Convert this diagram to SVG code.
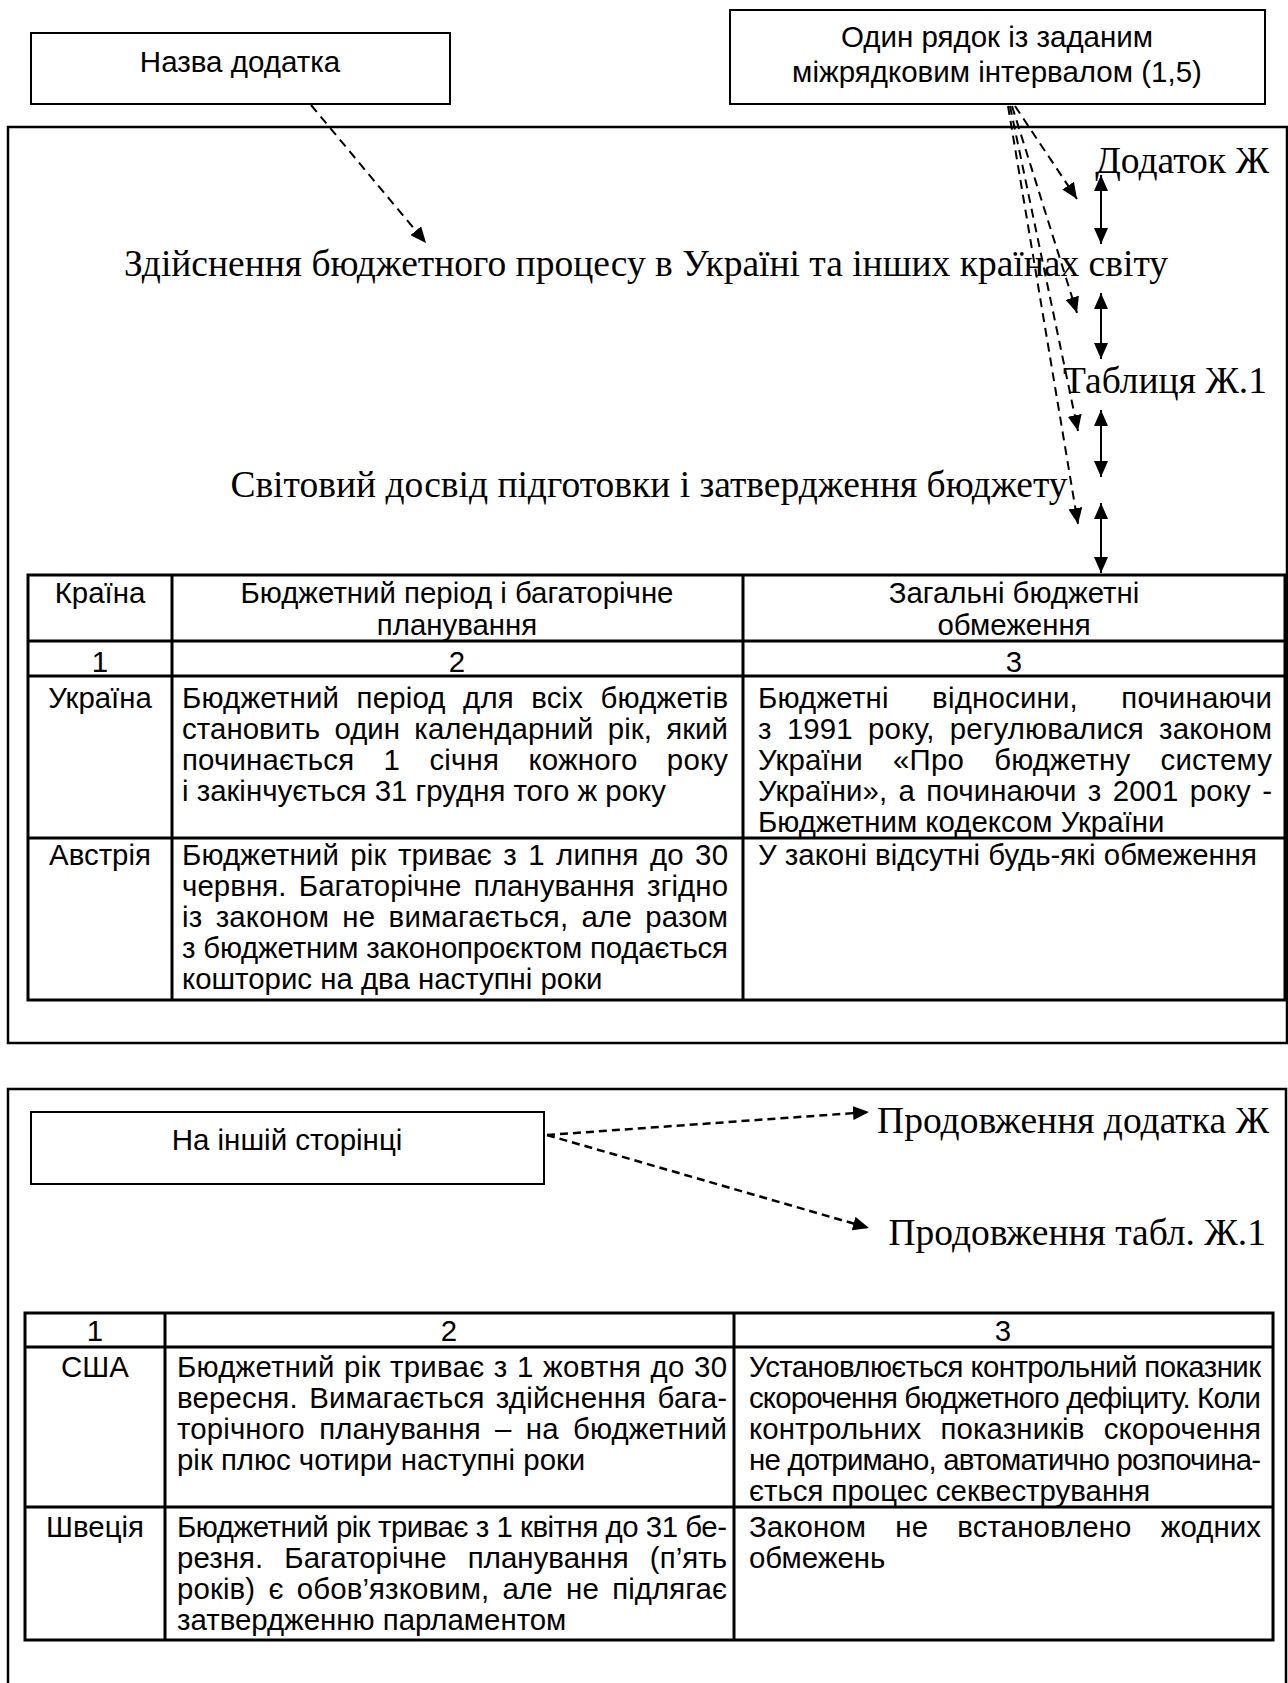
<svg xmlns="http://www.w3.org/2000/svg" width="1288" height="1683" viewBox="0 0 1288 1683">
<style>
.frame{fill:none;stroke:#000;stroke-width:2.5}
.box{fill:#fff;stroke:#000;stroke-width:2}
.tb{fill:none;stroke:#000;stroke-width:3}
.serif{font-family:"Liberation Serif","Times New Roman",serif;font-size:37.5px;fill:#000}
.sans{font-family:"Liberation Sans",Arial,sans-serif;font-size:29.5px;fill:#000}
.t{font-family:"Liberation Sans",Arial,sans-serif;font-size:29.4px;fill:#000}
.c{text-anchor:middle}
.e{text-anchor:end}
.dash{fill:none;stroke:#000;stroke-width:2;stroke-dasharray:9 6;marker-end:url(#ah)}
.dash2{fill:none;stroke:#000;stroke-width:2.5;stroke-dasharray:8 5;marker-end:url(#ah)}
.dbl{fill:none;stroke:#000;stroke-width:2;marker-start:url(#ah2);marker-end:url(#ah2)}
</style>
<defs>
<marker id="ah" markerUnits="userSpaceOnUse" markerWidth="17" markerHeight="14" refX="16" refY="7" orient="auto"><path d="M0,0 L16,7 L0,14 z" fill="#000"/></marker>
<marker id="ah2" markerUnits="userSpaceOnUse" markerWidth="17" markerHeight="14" refX="16" refY="7" orient="auto-start-reverse"><path d="M0,0 L16,7 L0,14 z" fill="#000"/></marker>
</defs>
<rect width="1288" height="1683" fill="#fff"/>

<g id="frame1"><rect class="frame" x="8" y="127" width="1279" height="916"/></g>
<g id="frame2"><rect class="frame" x="8" y="1089" width="1278" height="700"/></g>

<g id="box-nazva">
<rect class="box" x="31" y="33" width="419" height="71"/>
<text class="sans c" x="240" y="72">Назва додатка</text>
</g>
<g id="box-ryadok">
<rect class="box" x="730" y="10" width="535" height="94"/>
<text class="sans c" x="997" y="47">Один рядок із заданим</text>
<text class="sans c" x="997" y="82">міжрядковим інтервалом (1,5)</text>
</g>
<g id="box-insha">
<rect class="box" x="31" y="1112" width="513" height="72"/>
<text class="sans c" x="287" y="1150">На іншій сторінці</text>
</g>

<g id="label-dodatok"><text class="serif e" x="1269" y="173">Додаток Ж</text></g>
<g id="label-title"><text class="serif c" x="646" y="276">Здійснення бюджетного процесу в Україні та інших країнах світу</text></g>
<g id="label-tablytsia"><text class="serif e" x="1267" y="393">Таблиця Ж.1</text></g>
<g id="label-svitovyi"><text class="serif c" x="649" y="497">Світовий досвід підготовки і затвердження бюджету</text></g>
<g id="label-prod-dod"><text class="serif e" x="1269" y="1133">Продовження додатка Ж</text></g>
<g id="label-prod-tabl"><text class="serif e" x="1266" y="1245">Продовження табл. Ж.1</text></g>

<g id="table1">
<rect class="tb" x="28" y="575" width="1257" height="425"/>
<path class="tb" d="M28,641 H1285 M28,676 H1285 M28,838 H1285 M172,575 V1000 M743,575 V1000"/>
<text class="t c" x="100" y="603">Країна</text>
<text class="t c" x="457" y="603">Бюджетний період і багаторічне</text>
<text class="t c" x="457" y="635">планування</text>
<text class="t c" x="1014" y="603">Загальні бюджетні</text>
<text class="t c" x="1014" y="635">обмеження</text>
<text class="t c" x="100" y="672">1</text>
<text class="t c" x="457" y="672">2</text>
<text class="t c" x="1014" y="672">3</text>
<text class="t c" x="100" y="708">Україна</text>
<text class="t" x="182" y="708" style="word-spacing:9px" textLength="546" lengthAdjust="spacing">Бюджетний період для всіх бюджетів</text>
<text class="t" x="182" y="739" style="word-spacing:6px" textLength="546" lengthAdjust="spacing">становить один календарний рік, який</text>
<text class="t" x="182" y="770" style="word-spacing:21px" textLength="546" lengthAdjust="spacing">починається 1 січня кожного року</text>
<text class="t" x="182" y="801">і закінчується 31 грудня того ж року</text>
<text class="t" x="758" y="708" style="word-spacing:35px" textLength="514" lengthAdjust="spacing">Бюджетні відносини, починаючи</text>
<text class="t" x="758" y="739" style="word-spacing:7px" textLength="514" lengthAdjust="spacing">з 1991 року, регулювалися законом</text>
<text class="t" x="758" y="770" style="word-spacing:22px" textLength="514" lengthAdjust="spacing">України «Про бюджетну систему</text>
<text class="t" x="758" y="801" style="word-spacing:3px" textLength="514" lengthAdjust="spacing">України», а починаючи з 2001 року -</text>
<text class="t" x="758" y="832">Бюджетним кодексом України</text>
<text class="t c" x="100" y="865">Австрія</text>
<text class="t" x="182" y="865" style="word-spacing:3px" textLength="546" lengthAdjust="spacing">Бюджетний рік триває з 1 липня до 30</text>
<text class="t" x="182" y="896" style="word-spacing:4px" textLength="546" lengthAdjust="spacing">червня. Багаторічне планування згідно</text>
<text class="t" x="182" y="927" style="word-spacing:5px" textLength="546" lengthAdjust="spacing">із законом не вимагається, але разом</text>
<text class="t" x="182" y="958" textLength="546" lengthAdjust="spacing">з бюджетним законопроєктом подається</text>
<text class="t" x="182" y="989">кошторис на два наступні роки</text>
<text class="t" x="758" y="865">У законі відсутні будь-які обмеження</text>
</g>

<g id="table2">
<rect class="tb" x="25" y="1313" width="1248" height="327"/>
<path class="tb" d="M25,1347 H1273 M25,1507 H1273 M165,1313 V1640 M734,1313 V1640"/>
<text class="t c" x="95" y="1341">1</text>
<text class="t c" x="449" y="1341">2</text>
<text class="t c" x="1003" y="1341">3</text>
<text class="t c" x="95" y="1377">США</text>
<text class="t" x="177" y="1377" style="word-spacing:1px" textLength="550" lengthAdjust="spacing">Бюджетний рік триває з 1 жовтня до 30</text>
<text class="t" x="177" y="1408" style="word-spacing:3px" textLength="550" lengthAdjust="spacing">вересня. Вимагається здійснення бага-</text>
<text class="t" x="177" y="1439" style="word-spacing:6px" textLength="550" lengthAdjust="spacing">торічного планування – на бюджетний</text>
<text class="t" x="177" y="1470">рік плюс чотири наступні роки</text>
<text class="t" x="749" y="1377" textLength="512" lengthAdjust="spacing">Установлюється контрольний показник</text>
<text class="t" x="749" y="1408" textLength="512" lengthAdjust="spacing">скорочення бюджетного дефіциту. Коли</text>
<text class="t" x="749" y="1439" style="word-spacing:11px" textLength="512" lengthAdjust="spacing">контрольних показників скорочення</text>
<text class="t" x="749" y="1470" textLength="512" lengthAdjust="spacing">не дотримано, автоматично розпочина-</text>
<text class="t" x="749" y="1501">ється процес секвестрування</text>
<text class="t c" x="95" y="1537">Швеція</text>
<text class="t" x="177" y="1537" textLength="550" lengthAdjust="spacing">Бюджетний рік триває з 1 квітня до 31 бе-</text>
<text class="t" x="177" y="1568" style="word-spacing:13px" textLength="550" lengthAdjust="spacing">резня. Багаторічне планування (п’ять</text>
<text class="t" x="177" y="1599" style="word-spacing:5px" textLength="550" lengthAdjust="spacing">років) є обов’язковим, але не підлягає</text>
<text class="t" x="177" y="1630">затвердженню парламентом</text>
<text class="t" x="749" y="1537" style="word-spacing:21px" textLength="512" lengthAdjust="spacing">Законом не встановлено жодних</text>
<text class="t" x="749" y="1568">обмежень</text>
</g>

<g id="connectors">
<line class="dash" x1="311" y1="105" x2="426" y2="243"/>
<line class="dash" x1="1015" y1="106" x2="1077" y2="199"/>
<line class="dash" x1="1012" y1="106" x2="1077" y2="313"/>
<line class="dash" x1="1010" y1="106" x2="1078" y2="431"/>
<line class="dash" x1="1008" y1="106" x2="1078" y2="524"/>
<line class="dbl" x1="1101" y1="175" x2="1101" y2="244"/>
<line class="dbl" x1="1101" y1="293" x2="1101" y2="359"/>
<line class="dbl" x1="1101" y1="410" x2="1101" y2="477"/>
<line class="dbl" x1="1101" y1="503" x2="1101" y2="573"/>
<line class="dash2" x1="547" y1="1135" x2="869" y2="1112"/>
<line class="dash2" x1="547" y1="1135" x2="869" y2="1228"/>
</g>
</svg>
